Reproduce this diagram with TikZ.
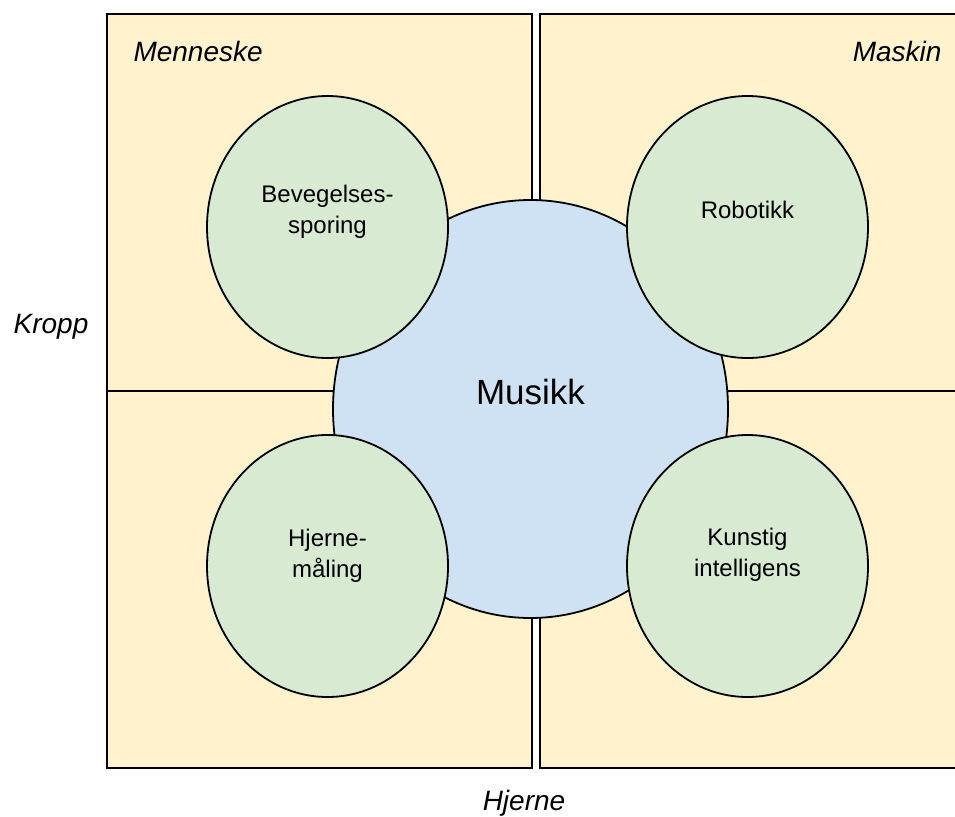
\documentclass[tikz,border=0pt]{standalone}
\usepackage{fontspec}
\setmainfont{Liberation Sans}
\usepackage{tikz}
\usetikzlibrary{shapes.geometric}
\usepackage{xcolor}

\definecolor{gul}{HTML}{FFF2CC}
\definecolor{bla}{HTML}{CFE2F3}
\definecolor{gronn}{HTML}{D9EAD3}

\begin{document}
\begin{tikzpicture}[x=1pt,y=-1pt,
		felt/.style		= {rectangle, draw, line width=1.8pt, fill=gul, inner sep=0pt, minimum height=377pt},
		hoved/.style	= {ellipse, draw, line width=1.8pt, fill=bla, minimum width=395pt, minimum height=418pt},
		gren/.style		= {ellipse, draw, line width=1.8pt, fill=gronn, minimum width=241pt, minimum height=262pt},
		akse/.style		= {font=\fontsize{28}{34}\selectfont\itshape},
		stor/.style		= {font=\fontsize{35}{42}\selectfont},
		liten/.style	= {font=\fontsize{24}{31}\selectfont, align=center}]
		 %\draw[help lines] (0,0) grid (955,816);
		 \useasboundingbox (0,0) rectangle (955,816);
		 \clip (0,0) rectangle (955,816);
		 
		 % felt
		 \node[felt, minimum width=425pt] (menneskekropp) at (319.5,202.5) {};
		 \node[felt, minimum width=425pt] (menneskehjerne) at (319.5,579.5) {};
		 \node[felt, minimum width=435pt] (maskinkropp) at (757.5,202.5) {};
		 \node[felt, minimum width=435pt] (maskinhjerne) at (757.5,579.5) {};
		 
		 \node[akse, anchor=base west] (menneske) at (130,62) {Menneske};
		 \node[akse, anchor=base east] (maskin) at (945,62) {Maskin};
		 \node[akse, anchor=base] (kropp) at (51,333) {Kropp};
		 \node[akse, anchor=base] (hjerne) at (524,810) {Hjerne};
		 
		 % midten
		 \node[hoved, label={[stor, yshift=17pt]center:Musikk}] (musikk) at (530.5,409) {};
		 
		 \node[gren, label={[liten, yshift=15pt]center:Bevegelses-\\sporing}] (sporing) at (327.5,227) {};
		 \node[gren, label={[liten, yshift=17pt]center:Robotikk}] (robotikk) at (747.5,227) {};
		 \node[gren, label={[liten, yshift=10pt]center:Hjerne-\\måling}] (maaling) at (327.5,566) {};
		 \node[gren, label={[liten, yshift=11pt]center:Kunstig\\intelligens}] (ki) at (747.5,566) {};
\end{tikzpicture}
\end{document}
